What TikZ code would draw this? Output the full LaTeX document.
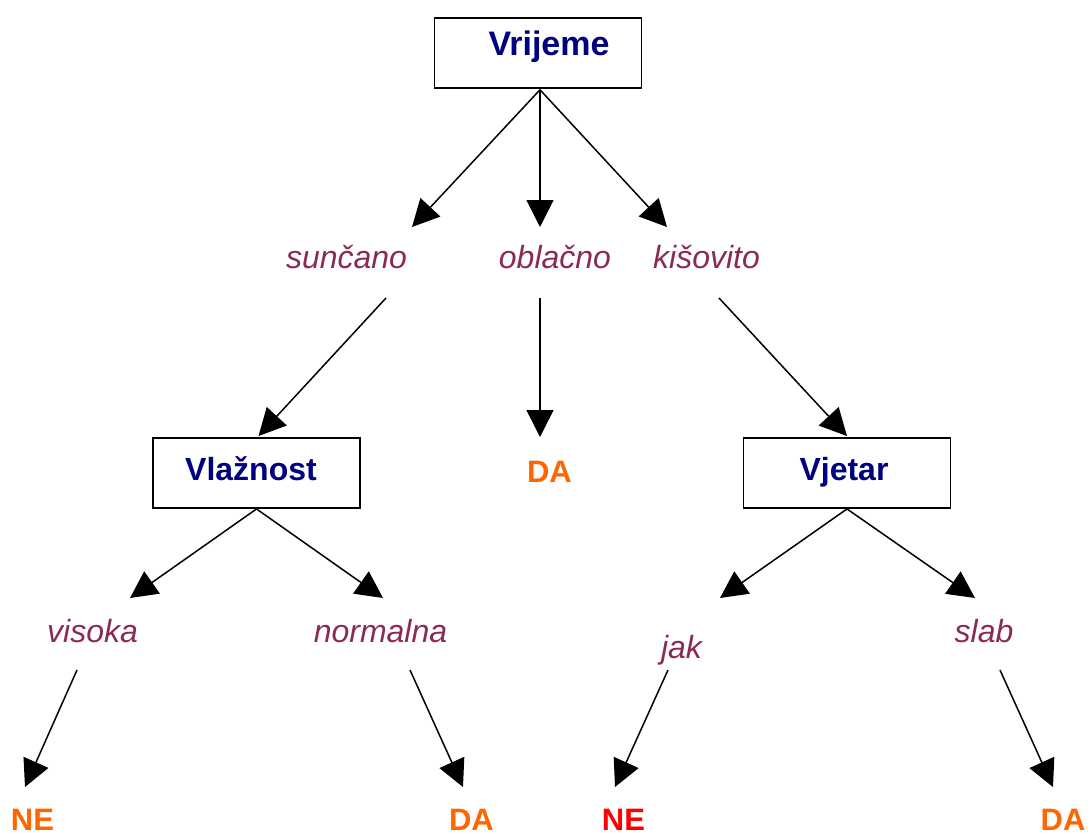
\documentclass[tikz,border=0pt]{standalone}
\usepackage{fontspec}
\setmainfont{Liberation Sans}
\usetikzlibrary{arrows.meta}
\definecolor{navytxt}{HTML}{000080}
\definecolor{edgetxt}{HTML}{8A2A55}
\definecolor{orangetxt}{HTML}{FF6600}
\definecolor{redtxt}{HTML}{FF0000}
\tikzset{
  box/.style={draw, line width=1.9pt, minimum width=207pt, minimum height=70pt,
    inner sep=0pt, text=navytxt, font=\fontsize{32}{38}\selectfont\bfseries},
  edgelab/.style={anchor=base, inner sep=0pt, text=edgetxt,
    font=\fontsize{32}{38}\selectfont\itshape},
  leaf/.style={anchor=base, inner sep=0pt, font=\fontsize{31}{37}\selectfont\bfseries},
  conn/.style={line width=1.5pt, -{Triangle[length=27pt,width=27pt]}},
}
\begin{document}
\begin{tikzpicture}[x=1pt,y=-1pt]
\useasboundingbox (0,0) rectangle (1088,835);
% decision nodes
\node[box, font=\fontsize{34}{40}\selectfont\bfseries, text height=20pt, text depth=13.6pt] (vr) at (538,52.8) {\kern22pt Vrijeme};
\node[box, text height=22pt, text depth=8pt] (vla) at (256.5,473) {Vlažnost\kern11pt\relax};
\node[box, text height=22pt, text depth=8pt] (vje) at (847,473) {Vjetar\kern6pt\relax};
% edge labels
\node[edgelab] (sun) at (346.5,268) {sunčano};
\node[edgelab] (obl) at (555,268) {oblačno};
\node[edgelab] (kis) at (706.5,268) {kišovito};
\node[edgelab] (vis) at (92.5,642) {visoka};
\node[edgelab] (nor) at (380.5,642) {normalna};
\node[edgelab] (jak) at (681.5,658) {jak};
\node[edgelab] (sla) at (984,642) {slab};
% leaves
\node[leaf, text=orangetxt] (da1) at (549.5,482) {DA};
\node[leaf, text=orangetxt] (ne1) at (32.5,830) {NE};
\node[leaf, text=orangetxt] (da2) at (471.5,830) {DA};
\node[leaf, text=redtxt] (ne2) at (623.5,830) {NE};
\node[leaf, text=orangetxt] (da3) at (1063,830) {DA};
% connectors
\draw[conn] ([shift={(2,1)}]vr.south) -- ([shift={(65.5,-41)}]sun.base);
\draw[conn] ([shift={(2,1)}]vr.south) -- ([shift={(-15,-41)}]obl.base);
\draw[conn] ([shift={(2,1)}]vr.south) -- ([shift={(-39.5,-41)}]kis.base);
\draw[conn] ([shift={(39.5,30)}]sun.base) -- ([shift={(2,-1)}]vla.north);
\draw[conn] ([shift={(-15,30)}]obl.base) -- ([shift={(-9.5,-45)}]da1.base);
\draw[conn] ([shift={(12.5,30)}]kis.base) -- ([shift={(0,-1)}]vje.north);
\draw[conn] (vla.south) -- ([shift={(37.5,-44)}]vis.base);
\draw[conn] (vla.south) -- ([shift={(2.5,-44)}]nor.base);
\draw[conn] (vje.south) -- ([shift={(38.5,-60)}]jak.base);
\draw[conn] (vje.south) -- ([shift={(-9,-44)}]sla.base);
\draw[conn] ([shift={(-15.5,28)}]vis.base) -- ([shift={(-7.5,-43)}]ne1.base);
\draw[conn] ([shift={(29.5,28)}]nor.base) -- ([shift={(-8.5,-43)}]da2.base);
\draw[conn] ([shift={(-13.5,12)}]jak.base) -- ([shift={(-8.5,-43)}]ne2.base);
\draw[conn] ([shift={(16,28)}]sla.base) -- ([shift={(-10,-43)}]da3.base);
\end{tikzpicture}
\end{document}
